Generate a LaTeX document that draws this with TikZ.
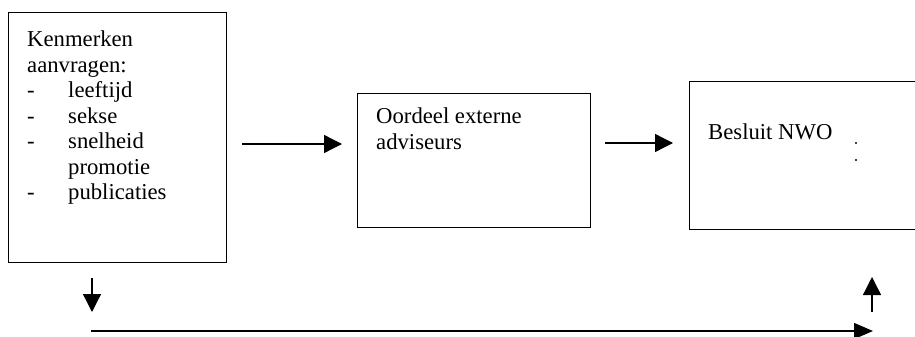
\documentclass[tikz,border=0pt]{standalone}
\usepackage{fontspec}
\setmainfont{Liberation Serif}
\usetikzlibrary{arrows.meta}
\begin{document}
\begin{tikzpicture}[x=1pt,y=-1pt,
  boxline/.style={draw=black, line width=1.4pt},
  conn/.style={line width=1.3pt, -{Triangle[length=18pt,width=18pt]}},
  dotmark/.style={circle, fill=black, inner sep=0pt, minimum size=2.4pt},
  lbl/.style={anchor=base west, inner sep=0pt, font=\fontsize{22.7}{25.5}\selectfont}]
\useasboundingbox (0,0) rectangle (915,337);
\clip (0,0) rectangle (915,337);
\fill[white] (0,0) rectangle (915,337);
% boxes
\node[boxline, anchor=north west, minimum width=218pt, minimum height=250pt, inner sep=0pt] (b1) at (8,12) {};
\node[boxline, anchor=north west, minimum width=233pt, minimum height=134pt, inner sep=0pt] (b2) at (357,93) {};
\node[boxline, anchor=north west, minimum width=240pt, minimum height=148pt, inner sep=0pt] (b3) at (689,81) {};
% texts
\node[lbl] (t1) at (27,46.7) {\parbox[t]{195pt}{\fontsize{22.7}{25.5}\selectfont
Kenmerken\\
aanvragen:\\
\makebox[41pt][l]{-}leeftijd\\
\makebox[41pt][l]{-}sekse\\
\makebox[41pt][l]{-}snelheid\\
\hspace*{41pt}promotie\\
\makebox[41pt][l]{-}publicaties}};
\node[lbl] (t2) at (376,123.3) {\parbox[t]{210pt}{\fontsize{22.7}{26.5}\selectfont
Oordeel externe\\
adviseurs}};
\node[lbl] (t3) at (708,139) {Besluit NWO};
\node[dotmark] (d1) at (856,143) {};
\node[dotmark] (d2) at (856,160) {};
% connectors
\coordinate (a1s) at (242,144);
\coordinate (a1e) at (342,144);
\draw[conn] (a1s) -- (a1e);
\coordinate (a2s) at (605,143);
\coordinate (a2e) at (673,143);
\draw[conn] (a2s) -- (a2e);
\coordinate (dns) at (92,278);
\coordinate (dne) at (92,312);
\draw[conn] (dns) -- (dne);
\coordinate (ups) at (872,312);
\coordinate (upe) at (872,277);
\draw[conn] (ups) -- (upe);
\coordinate (lgs) at (91,331);
\coordinate (lge) at (873,331);
\draw[line width=1.3pt, -{Triangle[length=19pt,width=16pt]}] (lgs) -- (lge);
\end{tikzpicture}
\end{document}
